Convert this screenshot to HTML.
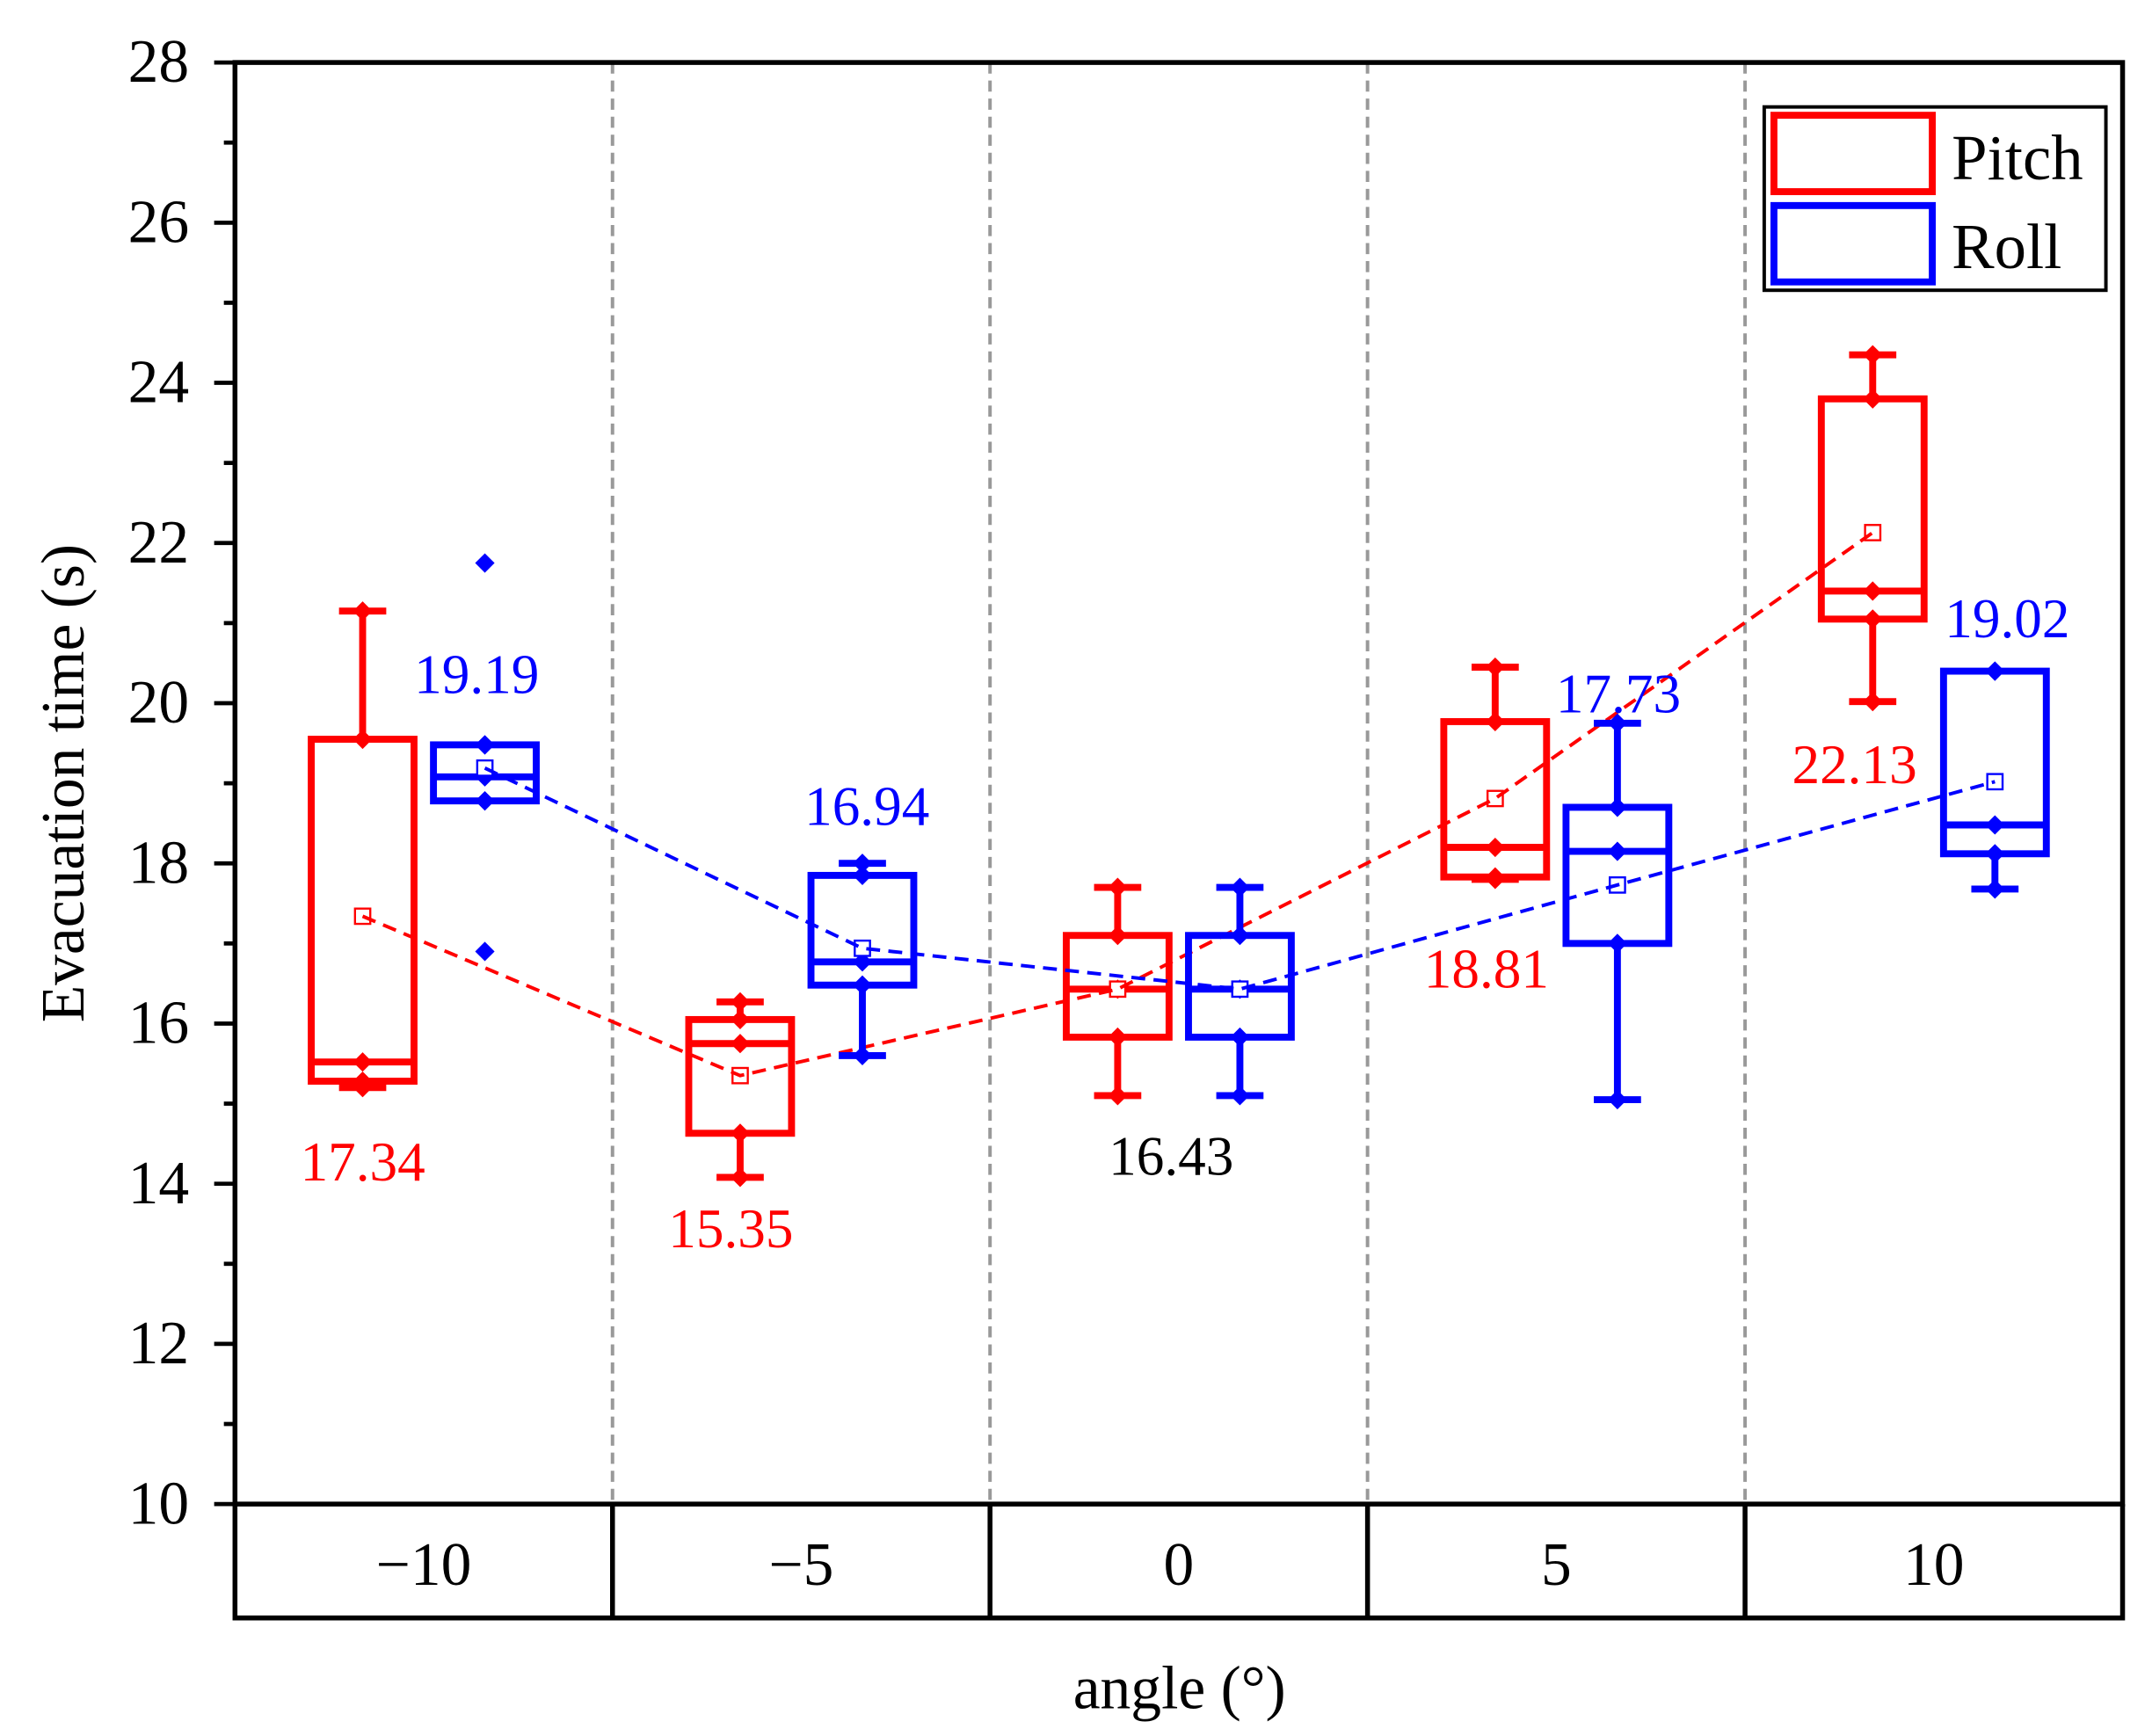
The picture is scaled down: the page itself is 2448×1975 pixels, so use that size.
<!DOCTYPE html>
<html><head><meta charset="utf-8"><style>
html,body{margin:0;padding:0;background:#fff}
svg{display:block}
text{font-family:"Liberation Serif",serif}
</style></head><body>
<svg id="chart" width="2448" height="1975" viewBox="0 0 1549 1250" xmlns="http://www.w3.org/2000/svg">
<rect x="0" y="0" width="1549" height="1250" fill="#fff"/>
<g id="grid"></g><g id="marks"></g><g id="axes"></g>
<text transform="translate(60,564) rotate(-90)" text-anchor="middle" font-size="44">Evacuation time (s)</text>
<text x="849" y="1230" text-anchor="middle" font-size="44">angle (°)</text>
<g>
<rect x="1270" y="77" width="246" height="132" fill="#fff" stroke="#000" stroke-width="2.5"/>
<rect x="1277" y="83" width="114" height="55" fill="none" stroke="#ff0000" stroke-width="5"/>
<rect x="1277" y="148" width="114" height="55" fill="none" stroke="#0000ff" stroke-width="5"/>
<text x="1405" y="129" font-size="46">Pitch</text>
<text x="1405" y="193" font-size="46">Roll</text>
</g>
</svg>
<script>
const categories=['\u221210','\u22125','0','5','10'];
const pitchMax=[21.15,16.27,17.7,20.45,24.35];
const pitchQ3=[19.55,16.05,17.1,19.77,23.8];
const pitchMed=[15.52,15.75,16.43,18.2,21.4];
const pitchQ1=[15.28,14.63,15.83,17.83,21.05];
const pitchMin=[15.2,14.08,15.1,17.8,20.02];
const pitchMean=[17.34,15.35,16.43,18.81,22.13];
const rollMax=[19.48,18.0,17.7,19.75,20.4];
const rollQ3=[19.48,17.85,17.1,18.7,20.4];
const rollMed=[19.08,16.77,16.43,18.15,18.48];
const rollQ1=[18.78,16.48,15.83,17.0,18.12];
const rollMin=[18.78,15.6,15.1,15.05,17.68];
const rollMean=[19.19,16.94,16.43,17.73,19.02];
const rollOutliers=[[21.75,16.9],[],[],[],[]];
const meanLabels=['17.34','19.19','15.35','16.94','16.43','18.81','17.73','22.13','19.02'];
const yTicks=[10,12,14,16,18,20,22,24,26,28];

const NS='http://www.w3.org/2000/svg';
const X0=169,X1=1528,YT=45,YB=1083,YBand=1165;
const cw=(X1-X0)/categories.length;
const y=v=>YB-(v-10)*(YB-YT)/18;
const xc=i=>X0+cw*(i+0.5);
function el(tag,attrs,parent,txt){const e=document.createElementNS(NS,tag);for(const k in attrs)e.setAttribute(k,attrs[k]);if(txt!==undefined)e.textContent=txt;parent.appendChild(e);return e;}
const grid=document.getElementById('grid'),marks=document.getElementById('marks'),axes=document.getElementById('axes');
for(let i=1;i<categories.length;i++){const xx=X0+cw*i;
 const d=el('line',{x1:xx,y1:YT,x2:xx,y2:YB,stroke:'#999',"stroke-width":2.5,"stroke-dasharray":'8,5'},grid);
 
 
 const b=el('line',{x1:xx,y1:YB,x2:xx,y2:YBand,stroke:'#000',"stroke-width":3.5},axes);
 
 }
el('rect',{x:X0,y:YT,width:X1-X0,height:YB-YT,fill:'none',stroke:'#000',"stroke-width":3.5},axes);
el('polyline',{points:`${X0},${YB} ${X0},${YBand} ${X1},${YBand} ${X1},${YB}`,fill:'none',stroke:'#000',"stroke-width":3.5},axes);
for(let v=10;v<=28;v++){const major=v%2===0;el('line',{x1:X0-(major?15:8),y1:y(v),x2:X0,y2:y(v),stroke:'#000',"stroke-width":3},axes);}
yTicks.forEach(v=>{const t=el('text',{x:136,y:y(v)+14,"text-anchor":'end',"font-size":44},axes,String(v));
 
 });
categories.forEach((c,i)=>{const t=el('text',{x:xc(i),y:1141,"text-anchor":'middle',"font-size":44},axes,c);
 
 });
function diamond(g,cx,cy,col){el('path',{d:`M${cx} ${cy-7}L${cx+7} ${cy}L${cx} ${cy+7}L${cx-7} ${cy}Z`,fill:col},g);}
function series(name,col,off,mx,q3,md,q1,mn,mean){
 const pts=[];
 categories.forEach((c,i)=>{const cx=xc(i)+off,w=37;
  const g=el('g',{},marks);
  
  
  if(mx[i]>q3[i]){el('line',{x1:cx,y1:y(mx[i]),x2:cx,y2:y(q3[i]),stroke:col,"stroke-width":5},g);el('line',{x1:cx-17,y1:y(mx[i]),x2:cx+17,y2:y(mx[i]),stroke:col,"stroke-width":5},g);}
  if(mn[i]<q1[i]){el('line',{x1:cx,y1:y(q1[i]),x2:cx,y2:y(mn[i]),stroke:col,"stroke-width":5},g);el('line',{x1:cx-17,y1:y(mn[i]),x2:cx+17,y2:y(mn[i]),stroke:col,"stroke-width":5},g);}
  el('rect',{x:cx-w,y:y(q3[i]),width:2*w,height:y(q1[i])-y(q3[i]),fill:'none',stroke:col,"stroke-width":5},g);
  el('line',{x1:cx-w,y1:y(md[i]),x2:cx+w,y2:y(md[i]),stroke:col,"stroke-width":5},g);
  [mx[i],q3[i],md[i],q1[i],mn[i]].forEach(v=>diamond(g,cx,y(v),col));
  el('rect',{x:cx-5.5,y:y(mean[i])-5.5,width:11,height:11,fill:'#fff',stroke:col,"stroke-width":1.5},g);
  pts.push(cx+','+y(mean[i]));
 });
 const l=el('polyline',{points:pts.join(' '),fill:'none',stroke:col,"stroke-width":2.5,"stroke-dasharray":'10,6'},marks);
 
 
}
series('pitch','#ff0000',-44,pitchMax,pitchQ3,pitchMed,pitchQ1,pitchMin,pitchMean);
series('roll','#0000ff',44,rollMax,rollQ3,rollMed,rollQ1,rollMin,rollMean);
rollOutliers.forEach((arr,i)=>arr.forEach(v=>{const g=el('g',{},marks);
 
 
 diamond(g,xc(i)+44,y(v),'#0000ff');}));
const lblPos=[[261,850,'#ff0000'],[343,499,'#0000ff'],[526,898,'#ff0000'],[624,594,'#0000ff'],[843,846,'#000'],[1070,711,'#ff0000'],[1165,513,'#0000ff'],[1335,564,'#ff0000'],[1445,459,'#0000ff']];
meanLabels.forEach((t,k)=>{const p=lblPos[k];const e=el('text',{x:p[0],y:p[1],"text-anchor":'middle',"font-size":40,fill:p[2]},marks,t);
 
 });
</script>
</body></html>
